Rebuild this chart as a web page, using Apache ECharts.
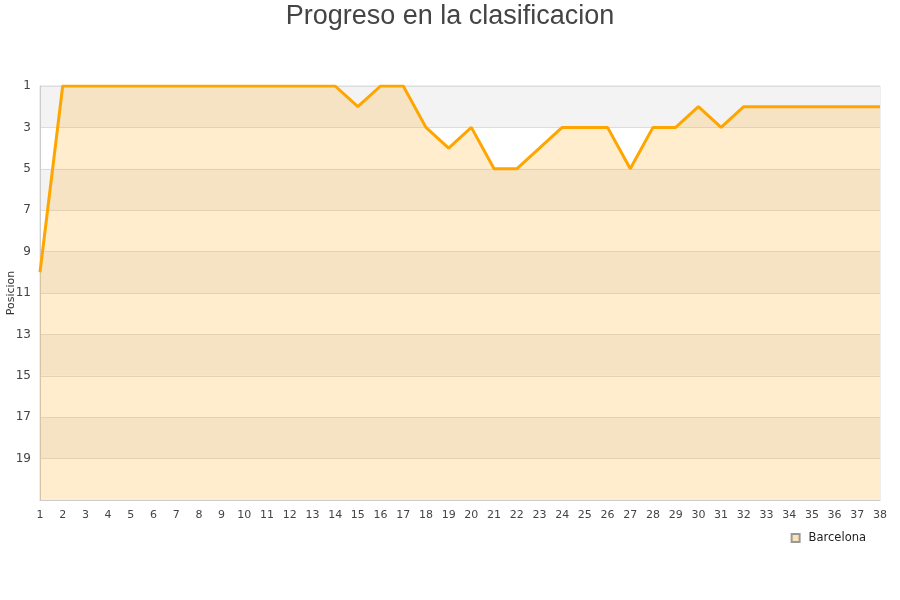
<!DOCTYPE html>
<html><head><meta charset="utf-8">
<script src="https://cdn.jsdelivr.net/npm/echarts@6/dist/echarts.min.js"></script>
<style>html,body{margin:0;padding:0;background:#fff}#c{width:900px;height:600px}</style>
</head><body><div id="c"></div>
<script>
const jornadas = [1,2,3,4,5,6,7,8,9,10,11,12,13,14,15,16,17,18,19,20,21,22,23,24,25,26,27,28,29,30,31,32,33,34,35,36,37,38];
const barcelona = [10,1,1,1,1,1,1,1,1,1,1,1,1,1,2,1,1,3,4,3,5,5,4,3,3,3,5,3,3,2,3,2,2,2,2,2,2,2];
const yTicks = [1,3,5,7,9,11,13,15,17,19];

const chart = echarts.init(document.getElementById('c'), null, {renderer:'canvas'});
chart.setOption({
  animation:false,
  backgroundColor:'#fff',
  title:{text:'Progreso en la clasificacion', left:'center', top:-2,
    textStyle:{fontFamily:'Liberation Sans, Arial, sans-serif', fontSize:27, fontWeight:'normal', color:'#444'}},
  legend:{data:['Barcelona'], right:29, top:527, itemWidth:8, itemHeight:8, icon:'rect',
    textStyle:{fontFamily:'DejaVu Sans', fontSize:11.5, color:'#222', padding:[0,0,0,4]}},
  grid:{left:40, right:20, top:86, bottom:100, show:true, borderColor:'#ddd', borderWidth:1,
    containLabel:false, outerBoundsMode:'none'},
  xAxis:{type:'value', min:1, max:38, interval:1,
    axisLine:{show:true, lineStyle:{color:'#ccc'}}, axisTick:{show:false},
    splitLine:{show:false},
    axisLabel:{fontFamily:'DejaVu Sans', fontSize:11, color:'#444', margin:10}},
  yAxis:{type:'value', inverse:true, min:1, max:21, interval:2,
    name:'Posicion', nameLocation:'middle', nameGap:23, nameRotate:90, nameMoveOverlap:false,
    nameTextStyle:{fontFamily:'DejaVu Sans', fontSize:11, color:'#333'},
    axisLine:{show:true, lineStyle:{color:'#ccc'}}, axisTick:{show:false},
    axisLabel:{fontFamily:'DejaVu Sans', fontSize:12, color:'#444', margin:9,
      formatter:v=> yTicks.indexOf(v)>=0 ? String(v) : ''},
    splitLine:{show:true, lineStyle:{color:'#ddd'}},
    splitArea:{show:true, areaStyle:{color:['#f3f3f3','#ffffff'], opacity:1}}},
  series:[{
    name:'Barcelona', type:'line', symbol:'none',
    data: jornadas.map((j,i)=>[j, barcelona[i]]),
    lineStyle:{color:'#ffa500', width:3},
    itemStyle:{color:'#fde3b3', borderColor:'#999', borderWidth:1},
    areaStyle:{color:'rgba(255,170,22,0.21)', opacity:1, origin:'end'}
  }]
});
</script></body></html>
